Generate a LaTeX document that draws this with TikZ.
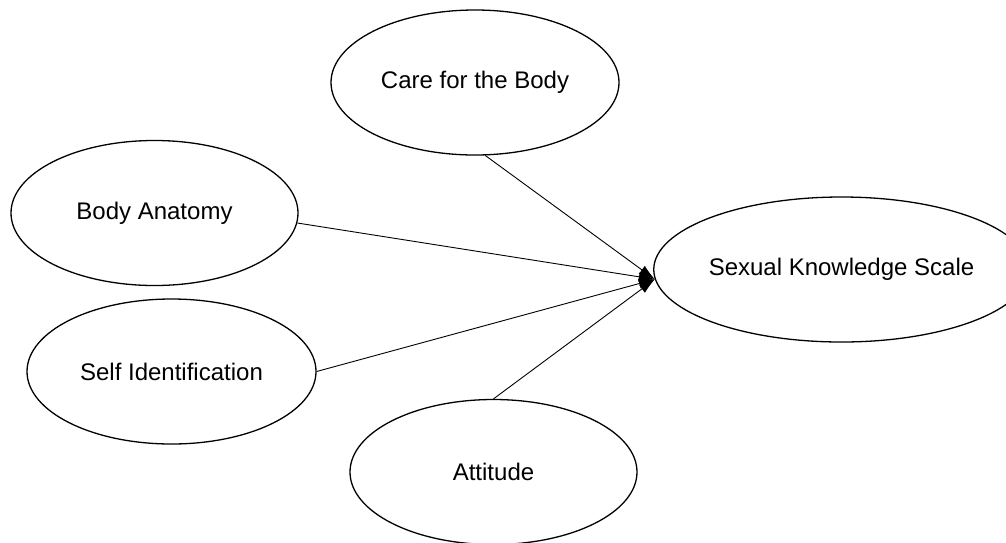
\documentclass[tikz,border=0pt]{standalone}
\usepackage{fontspec}
\setmainfont{Liberation Sans}
\usetikzlibrary{shapes.geometric,arrows.meta}
\begin{document}
\begin{tikzpicture}[x=1pt,y=-1pt,
  latent/.style={ellipse,draw=black,line width=1.3pt,inner sep=0pt,
    minimum width=288pt,minimum height=145pt,
    font=\fontsize{24}{28}\selectfont},
  conn/.style={draw=black,line width=0.9pt,-{Latex[length=16pt,width=10pt]}}]
\useasboundingbox (0,0) rectangle (1006,542);
\node[latent] (cb) at (475,82.5) {Care for the Body};
\node[latent,minimum width=287pt] (ba) at (154.5,213) {Body Anatomy};
\node[latent,minimum width=289pt] (si) at (171.5,371.5) {Self Identification};
\node[latent,minimum width=287pt] (at) at (493.5,472) {Attitude};
\node[latent,minimum width=329pt] (sk) at (841.5,269.5) {Sexual Knowledge Scale};
\draw[conn] (cb.-82) -- (sk.183);
\draw[conn] (ba.-4) -- (sk.183);
\draw[conn] (si.east) -- (sk.183);
\draw[conn] (at.north) -- (sk.183);
\end{tikzpicture}
\end{document}
